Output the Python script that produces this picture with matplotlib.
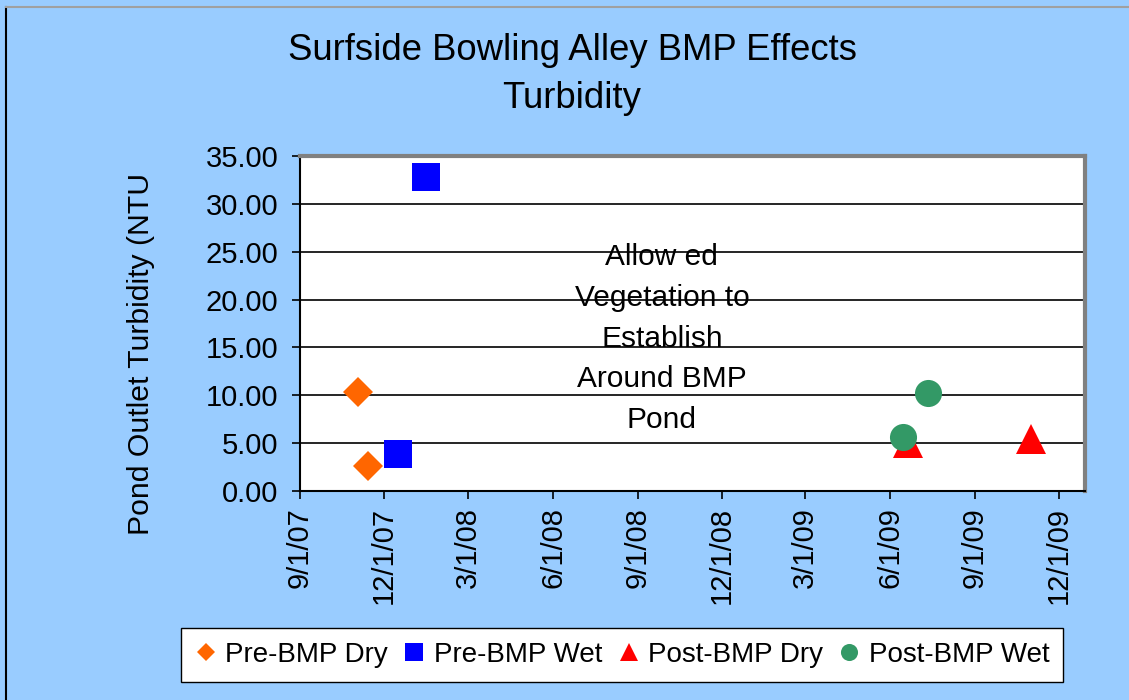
import datetime as dt
import matplotlib
matplotlib.use("Agg")
import matplotlib.pyplot as plt
import matplotlib.dates as mdates
from matplotlib.lines import Line2D

plt.rcParams['font.family'] = ['Liberation Sans', 'DejaVu Sans']

# data
pre_dry_dates = ['2007-11-03', '2007-11-14']
pre_dry_vals = [10.3, 2.6]
pre_wet_dates = ['2007-12-16', '2008-01-15']
pre_wet_vals = [3.9, 32.8]
post_dry_dates = ['2009-06-20', '2009-11-01']
post_dry_vals = [5.0, 5.4]
post_wet_dates = ['2009-06-15', '2009-07-12']
post_wet_vals = [5.6, 10.2]

series_names = ['Pre-BMP Dry', 'Pre-BMP Wet', 'Post-BMP Dry', 'Post-BMP Wet']
y_ticks = [0, 5, 10, 15, 20, 25, 30, 35]


def to_dates(lst):
    return [dt.datetime.strptime(s, '%Y-%m-%d') for s in lst]


bg = '#99CCFF'
W, H = 1129, 700
fig = plt.figure(figsize=(11.29, 7.0), dpi=100, facecolor=bg)
ax = fig.add_axes([300 / W, 1 - 491 / H, 785 / W, 335 / H])
ax.set_facecolor('white')

# chart border (right/bottom edges run off the picture)
fig.lines.append(Line2D([6 / W, 6 / W], [0, 1 - 7 / H], transform=fig.transFigure,
                        color='black', linewidth=1.5))
fig.lines.append(Line2D([6 / W, 1], [1 - 7 / H, 1 - 7 / H], transform=fig.transFigure,
                        color='#A0A0A0', linewidth=1.5))

h1, = ax.plot(to_dates(pre_dry_dates), pre_dry_vals, linestyle='none', marker='D',
              markersize=15, color='#FF6600', markeredgewidth=0, zorder=3)
h2, = ax.plot(to_dates(pre_wet_dates), pre_wet_vals, linestyle='none', marker='s',
              markersize=19.5, color='#0000FF', markeredgewidth=0, zorder=3)
h3, = ax.plot(to_dates(post_dry_dates), post_dry_vals, linestyle='none', marker='^',
              markersize=21.5, color='#FF0000', markeredgewidth=0, zorder=3)
h4, = ax.plot(to_dates(post_wet_dates), post_wet_vals, linestyle='none', marker='o',
              markersize=19.5, color='#339966', markeredgewidth=0, zorder=3)

ax.set_ylim(0, 35)
ax.set_yticks(y_ticks)
ax.yaxis.set_major_formatter(plt.FuncFormatter(lambda v, p: f'{v:.2f}'))
ax.grid(axis='y', color='black', linewidth=1.2)
ax.set_axisbelow(True)

start = dt.datetime(2007, 9, 1)
ax.set_xlim(start, start + dt.timedelta(days=850))
ax.xaxis.set_major_locator(mdates.MonthLocator(bymonth=[3, 6, 9, 12]))
ax.xaxis.set_major_formatter(plt.FuncFormatter(
    lambda v, p: '{0.month}/{0.day}/{0:%y}'.format(mdates.num2date(v))))

ax.tick_params(axis='both', labelsize=21, direction='out', length=5.5, width=1.2,
               color='black', pad=10)
ax.tick_params(axis='x', labelrotation=90, pad=6)

for side in ['left', 'bottom']:
    ax.spines[side].set_color('black')
    ax.spines[side].set_linewidth(1.5)
for side in ['top', 'right']:
    ax.spines[side].set_color('#808080')
    ax.spines[side].set_linewidth(3)

ax.text(0.461, 0.455, 'Allow ed\nVegetation to\nEstablish\nAround BMP\nPond',
        transform=ax.transAxes, ha='center', va='center', fontsize=21.5, linespacing=1.58)

fig.text(572 / W, 1 - 51 / H, 'Surfside Bowling Alley BMP Effects',
         ha='center', va='center', fontsize=26.3)
fig.text(572 / W, 1 - 98 / H, 'Turbidity', ha='center', va='center', fontsize=26.3)
fig.text(141 / W, 1 - 354 / H, 'Pond Outlet Turbidity (NTU', rotation=90,
         ha='center', va='center', fontsize=21.7)

leg = fig.legend([h1, h2, h3, h4], series_names, loc='center',
                 bbox_to_anchor=(622 / W, 1 - 655 / H), ncol=4, fontsize=20,
                 frameon=True, fancybox=False, edgecolor='black', facecolor='white',
                 framealpha=1.0, markerscale=0.63, handlelength=0.8, handletextpad=0.3,
                 columnspacing=0.55, borderpad=0.5)
leg.get_frame().set_linewidth(1.0)

fig.savefig('out.png', dpi=100, facecolor=bg)
